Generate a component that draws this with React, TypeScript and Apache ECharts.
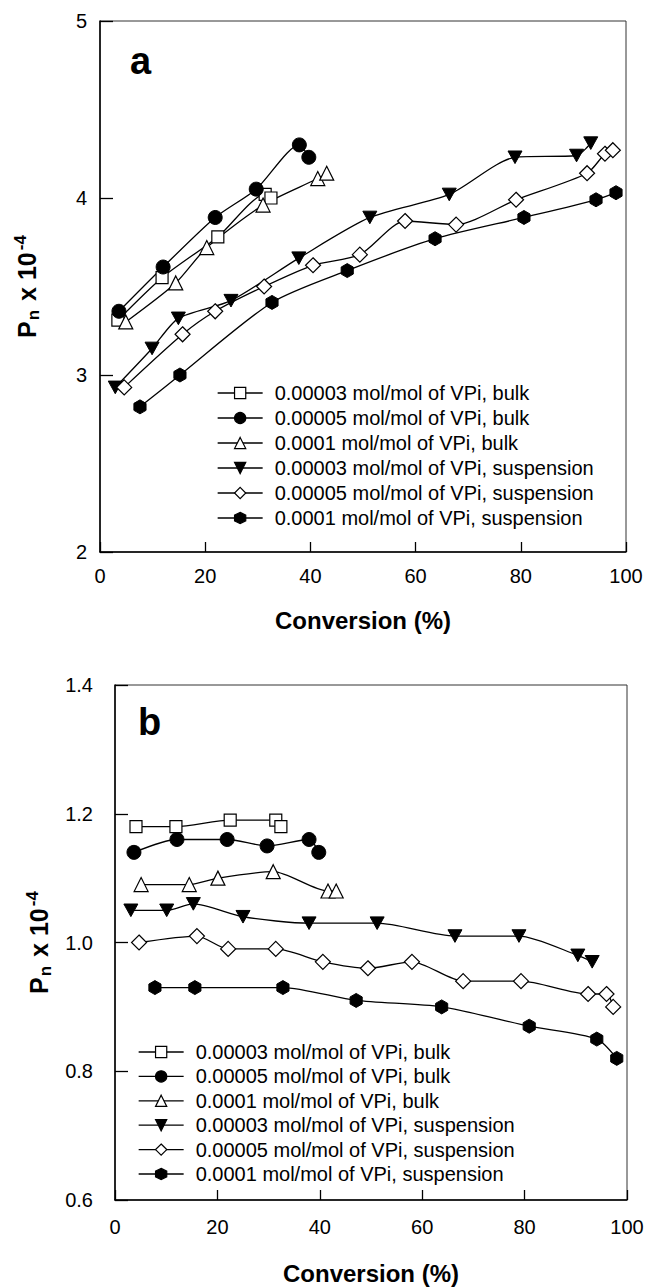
import React, { useEffect, useRef } from "react";
import * as echarts from "echarts";

const seriesNames = [
  "0.00003 mol/mol of VPi, bulk",
  "0.00005 mol/mol of VPi, bulk",
  "0.0001 mol/mol of VPi, bulk",
  "0.00003 mol/mol of VPi, suspension",
  "0.00005 mol/mol of VPi, suspension",
  "0.0001 mol/mol of VPi, suspension",
];

// Panel a
const aBulk3 = [[3.4, 3.31], [11.8, 3.55], [22.4, 3.78], [31.4, 4.02], [32.5, 4.0]];
const aBulk5 = [[3.6, 3.36], [12, 3.61], [21.9, 3.89], [29.7, 4.05], [37.9, 4.3], [39.7, 4.23]];
const aBulk10 = [[4.9, 3.3], [14.4, 3.52], [20.3, 3.72], [31, 3.96], [41.4, 4.11], [43.1, 4.14]];
const aSusp3 = [[2.9, 2.93], [9.9, 3.15], [14.9, 3.32], [24.9, 3.42], [37.8, 3.66], [51.3, 3.89], [66.4, 4.02], [78.9, 4.23], [90.6, 4.24], [93.3, 4.31]];
const aSusp5 = [[4.6, 2.93], [15.7, 3.23], [21.9, 3.36], [31.2, 3.5], [40.5, 3.62], [49.4, 3.68], [58, 3.87], [67.7, 3.85], [79.1, 3.99], [92.6, 4.14], [96, 4.25], [97.5, 4.27]];
const aSusp10 = [[7.6, 2.82], [15.2, 3.0], [32.7, 3.41], [47, 3.59], [63.7, 3.77], [80.6, 3.89], [94.3, 3.99], [98.1, 4.03]];

// Panel b
const bBulk3 = [[4.1, 1.18], [11.9, 1.18], [22.5, 1.19], [31.4, 1.19], [32.4, 1.18]];
const bBulk5 = [[3.7, 1.14], [12.1, 1.16], [21.9, 1.16], [29.7, 1.15], [37.9, 1.16], [39.8, 1.14]];
const bBulk10 = [[5.1, 1.09], [14.5, 1.09], [20.1, 1.1], [30.9, 1.11], [41.6, 1.08], [43.2, 1.08]];
const bSusp3 = [[3.1, 1.05], [10.1, 1.05], [15.3, 1.06], [25, 1.04], [37.9, 1.03], [51.2, 1.03], [66.4, 1.01], [78.9, 1.01], [90.4, 0.98], [93.2, 0.97]];
const bSusp5 = [[4.7, 1.0], [16, 1.01], [22.1, 0.99], [31.4, 0.99], [40.6, 0.97], [49.4, 0.96], [58, 0.97], [68, 0.94], [79.3, 0.94], [92.4, 0.92], [96, 0.92], [97.3, 0.9]];
const bSusp10 = [[7.8, 0.93], [15.6, 0.93], [32.8, 0.93], [47.1, 0.91], [63.8, 0.9], [80.9, 0.87], [94.1, 0.85], [98, 0.82]];

const FONT = "'Liberation Sans', Arial, sans-serif";

const HEX = "path://M0,-1 L0.866,-0.5 L0.866,0.5 L0,1 L-0.866,0.5 L-0.866,-0.5 Z";
const DOWN_TRI = "path://M-1,-0.9 L1,-0.9 L0,0.9 Z";

const styles = [
  { symbol: "rect", open: true, size: 12 },
  { symbol: "circle", open: false, size: 14 },
  { symbol: "triangle", open: true, size: 14 },
  { symbol: DOWN_TRI, open: false, size: 14 },
  { symbol: "diamond", open: true, size: 15 },
  { symbol: HEX, open: false, size: 14 },
];

function makeSeries(data: number[][], idx: number, grid: number) {
  const st = styles[idx];
  return {
    type: "line",
    name: seriesNames[idx],
    xAxisIndex: grid,
    yAxisIndex: grid,
    data,
    smooth: 0.25,
    symbol: st.symbol,
    symbolSize: st.size,
    symbolKeepAspect: true,
    showAllSymbol: true,
    lineStyle: { color: "#000", width: 1.3 },
    itemStyle: st.open
      ? { color: "#fff", borderColor: "#000", borderWidth: 1.2 }
      : { color: "#000", borderColor: "#000", borderWidth: 1 },
    emphasis: { disabled: true },
    z: 2,
  };
}

const yName = "{b|P}{sub|n}{b| x 10}{sup|-4}";
const yNameRich = {
  b: { fontSize: 25, fontWeight: "bold", fontFamily: FONT, color: "#000", lineHeight: 30, verticalAlign: "middle" },
  sub: { fontSize: 17, fontWeight: "bold", fontFamily: FONT, color: "#000", verticalAlign: "bottom", padding: [0, 2, 0, 1] },
  sup: { fontSize: 17, fontWeight: "bold", fontFamily: FONT, color: "#000", verticalAlign: "top", padding: [0, 0, 0, 2] },
};

function xAxisCfg(grid: number, labelMargin: number, nameGap: number) {
  return {
    type: "value",
    gridIndex: grid,
    min: 0,
    max: 100,
    interval: 20,
    name: "Conversion (%)",
    nameLocation: "middle",
    nameGap,
    nameTextStyle: { fontSize: 24, fontWeight: "bold", fontFamily: FONT, color: "#000" },
    axisLine: { lineStyle: { color: "#000", width: 1.5 } },
    axisTick: { inside: true, length: 10, lineStyle: { color: "#000", width: 1.3 } },
    axisLabel: { fontSize: 20, fontFamily: FONT, color: "#000", margin: labelMargin },
    splitLine: { show: false },
  };
}

function yAxisCfg(grid: number, min: number, max: number, interval: number, labelMargin: number, decimals: number) {
  return {
    type: "value",
    gridIndex: grid,
    min,
    max,
    interval,
    name: yName,
    nameLocation: "middle",
    nameGap: 58,
    nameTextStyle: { rich: yNameRich },
    axisLine: { lineStyle: { color: "#000", width: 1.5 } },
    axisTick: { inside: true, length: 13, lineStyle: { color: "#000", width: 1.3 } },
    axisLabel: {
      fontSize: 20,
      fontFamily: FONT,
      color: "#000",
      margin: labelMargin,
      formatter: (v: number) => v.toFixed(decimals),
    },
    splitLine: { show: false },
  };
}

function legendCfg(left: number, top: number, gap: number) {
  return {
    left,
    top,
    orient: "vertical",
    itemWidth: 45,
    itemHeight: 14,
    itemGap: gap,
    data: seriesNames,
    selectedMode: false,
    textStyle: { fontSize: 20, fontFamily: FONT, color: "#000", lineHeight: 20, padding: [0, 0, 0, 7] },
    itemStyle: { borderWidth: 1.2 },
    lineStyle: { width: 1.3 },
  };
}

export default function App() {
  const ref = useRef<HTMLDivElement>(null);
  useEffect(() => {
    if (!ref.current) return;
    const chart = echarts.init(ref.current, undefined, { renderer: "svg" });
    const aSets = [aBulk3, aBulk5, aBulk10, aSusp3, aSusp5, aSusp10];
    const bSets = [bBulk3, bBulk5, bBulk10, bSusp3, bSusp5, bSusp10];
    chart.setOption({
      animation: false,
      backgroundColor: "#fff",
      grid: [
        { left: 100, right: 21, top: 21, bottom: 1287 - 552, show: true, borderColor: "#333", borderWidth: 1, containLabel: false },
        { left: 115, right: 20, top: 685, bottom: 1287 - 1200, show: true, borderColor: "#333", borderWidth: 1, containLabel: false },
      ],
      xAxis: [xAxisCfg(0, 14, 56), xAxisCfg(1, 17, 61)],
      yAxis: [yAxisCfg(0, 2, 5, 1, 13, 0), yAxisCfg(1, 0.6, 1.4, 0.2, 22, 1)],
      legend: [legendCfg(212, 378, 5), legendCfg(133, 1037, 4.4)],
      graphic: [
        { type: "text", left: 130, top: 42, style: { text: "a", fontSize: 38, fontWeight: "bold", fontFamily: FONT, fill: "#000" } },
        { type: "text", left: 138, top: 703, style: { text: "b", fontSize: 38, fontWeight: "bold", fontFamily: FONT, fill: "#000" } },
      ],
      series: [
        ...aSets.map((d, i) => makeSeries(d, i, 0)),
        ...bSets.map((d, i) => makeSeries(d, i, 1)),
      ],
    });
    return () => chart.dispose();
  }, []);
  return (
    <div
      ref={ref}
      style={{ position: "absolute", left: 0, top: 0, width: 647, height: 1287, background: "#fff" }}
    />
  );
}
